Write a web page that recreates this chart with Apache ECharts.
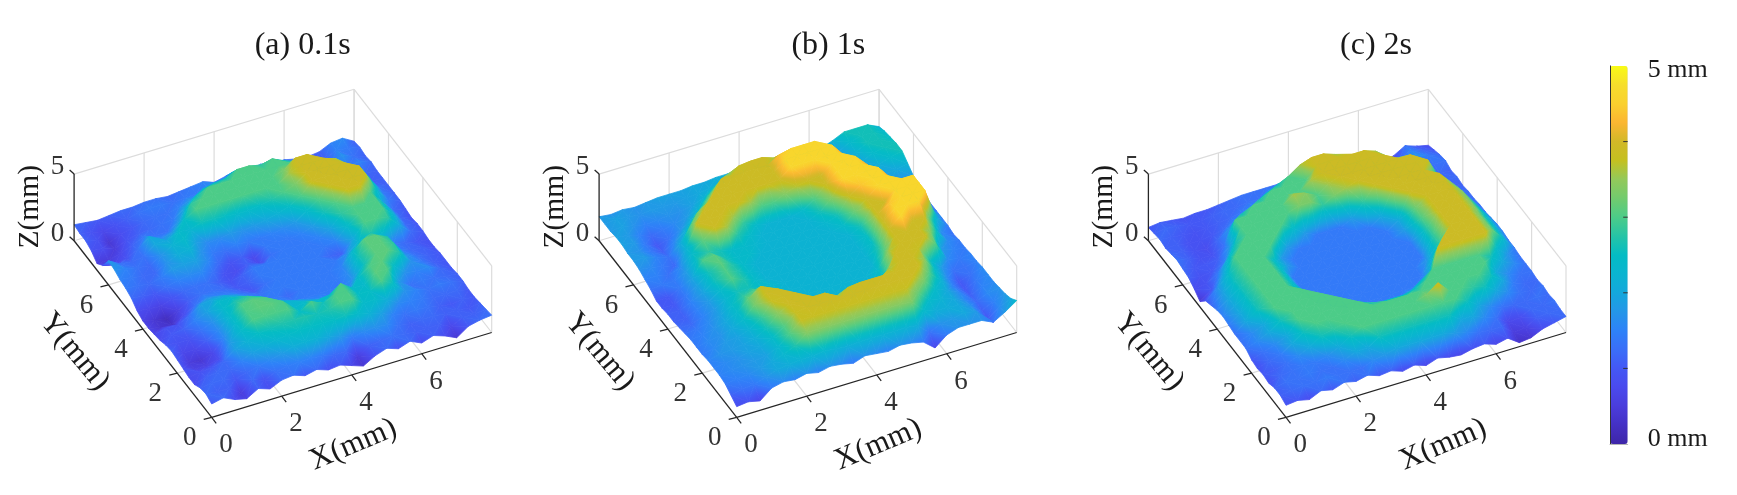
<!DOCTYPE html>
<html><head><meta charset="utf-8">
<style>html,body{margin:0;padding:0;background:#fff}#c{width:1737px;height:495px}</style>
<script src="https://cdn.jsdelivr.net/npm/echarts@6/dist/echarts.min.js"></script>
</head><body><div id="c"></div>
<script>
// Surface heights, in tenths of a millimetre.
// Each row is one y step (1/3 mm, y = 0 first); each column one x step (1/3 mm).
const heightsA = [
[10,12,8,6,11,8,12,13,10,12,9,10,7,4,9,12,9,12,8,11,8,4,10,12,13],
[12,11,11,5,12,9,13,14,15,15,14,12,12,5,11,12,13,12,11,11,11,7,11,11,12],
[11,12,12,10,12,14,16,18,21,22,22,20,18,14,16,17,16,13,11,12,12,11,11,10,11],
[8,11,12,12,15,19,21,23,24,25,25,25,25,26,24,22,19,15,13,14,13,11,10,11,10],
[8,9,10,12,19,22,25,26,27,27,27,26,27,30,30,24,24,21,16,15,14,12,12,12,10],
[9,6,6,8,18,24,30,30,30,30,25,30,26,30,30,25,25,30,25,17,15,13,14,13,11],
[10,5,4,7,16,24,30,31,31,30,23,24,23,24,30,24,24,31,30,18,13,14,13,12,11],
[11,7,7,11,16,24,30,31,30,23,22,20,17,16,15,15,24,30,31,25,17,15,16,12,10],
[10,9,9,13,17,24,27,28,25,20,16,14,14,14,14,14,17,26,31,31,27,17,14,11,10],
[8,10,11,15,19,24,24,22,18,14,14,12,14,14,14,14,16,26,31,31,28,17,13,11,10],
[7,9,9,13,19,20,20,18,15,13,14,14,14,14,14,14,15,24,31,31,27,15,12,11,9],
[6,4,3,8,13,16,15,14,12,10,13,14,14,14,14,14,14,17,23,27,23,14,12,10,9],
[6,4,2,6,11,13,13,12,10,11,14,14,14,14,14,14,12,11,20,30,30,28,20,12,10],
[8,7,6,9,12,13,13,11,9,11,14,14,14,14,14,14,14,15,24,30,30,30,22,12,10],
[12,11,10,13,15,16,16,13,9,8,11,8,13,14,14,14,15,19,28,30,30,30,22,12,9],
[14,13,12,14,18,19,19,16,12,9,11,7,14,14,14,15,18,26,30,39,39,30,20,12,10],
[15,14,12,12,17,21,22,17,14,13,15,14,14,15,16,18,24,30,39,39,39,39,24,14,11],
[17,15,13,12,17,22,24,19,16,16,18,17,18,20,22,25,30,39,39,39,39,39,26,14,11],
[18,13,12,13,20,20,24,23,26,26,25,24,24,25,27,30,33,39,39,39,39,33,20,13,11],
[9,7,9,13,20,16,18,25,30,30,30,30,30,30,30,30,36,39,39,39,36,24,14,11,11],
[5,5,7,11,14,13,13,18,28,30,30,30,30,30,30,30,33,39,39,33,26,15,12,12,11],
[9,8,5,9,11,12,13,14,20,26,30,30,30,30,30,30,30,30,28,20,14,12,14,15,12],
[11,9,4,8,10,12,13,13,15,18,23,25,26,30,30,28,30,26,20,14,12,12,17,13,11],
[11,9,7,9,11,13,14,14,13,14,14,16,17,22,22,20,17,15,14,12,11,11,15,14,12],
[12,11,10,11,12,12,13,13,12,13,14,15,12,14,13,14,15,13,13,11,10,11,15,16,11]
];
const heightsB = [
[8,9,7,14,16,15,17,15,17,16,14,17,16,15,17,16,14,7,14,17,17,17,13,18,24],
[11,13,14,17,20,21,22,22,23,22,21,22,22,22,22,22,21,13,17,18,20,18,10,16,20],
[14,15,16,18,20,23,27,34,34,34,34,34,34,34,34,34,33,24,21,21,20,17,11,15,18],
[15,16,17,18,19,23,30,38,38,38,38,38,38,38,38,38,38,32,24,22,20,16,12,16,17],
[15,16,17,19,20,24,30,38,39,39,39,39,39,39,39,39,39,39,33,24,20,16,11,15,16],
[15,17,18,19,21,26,34,39,39,39,39,34,38,39,39,39,39,39,39,30,22,15,10,14,16],
[14,16,18,19,22,28,38,39,39,26,24,22,24,22,24,28,36,39,39,35,24,16,10,13,16],
[14,16,17,20,24,33,39,39,30,22,22,22,22,22,22,22,26,39,39,38,26,18,13,13,15],
[14,15,17,20,24,32,38,33,26,22,22,22,22,22,22,22,24,36,39,39,39,30,16,14,15],
[13,14,16,19,24,28,30,26,23,22,22,22,22,22,22,22,22,30,39,39,39,34,18,15,14],
[12,12,15,18,23,26,26,24,23,22,22,22,22,22,22,22,22,27,39,46,39,39,26,16,14],
[11,11,15,18,24,30,27,24,22,22,22,22,22,22,22,22,22,25,39,46,46,46,30,16,13],
[11,11,15,19,26,30,27,24,22,22,22,22,22,22,22,22,22,25,39,44,46,46,46,22,14],
[10,10,14,19,26,31,27,24,22,22,22,22,22,22,22,22,22,26,39,39,46,46,46,24,14],
[10,10,14,19,30,31,26,24,24,22,22,22,22,22,22,22,24,32,39,46,46,46,46,22,14],
[13,14,14,18,26,28,26,24,24,23,22,22,22,22,22,23,26,38,44,46,46,38,22,16,14],
[15,15,13,16,24,31,39,36,27,24,22,22,22,22,22,26,34,46,46,46,46,30,20,16,15],
[17,16,14,12,22,39,39,39,36,28,24,22,22,22,24,30,39,46,46,46,40,26,18,16,16],
[18,18,15,13,20,32,39,39,39,39,36,30,30,34,37,39,39,46,46,46,34,22,18,17,18],
[18,17,14,11,16,22,33,39,39,39,39,39,39,39,46,46,46,46,46,38,28,20,19,20,22],
[19,18,14,10,13,17,22,30,39,39,39,39,39,39,46,46,46,46,46,32,24,20,21,24,26],
[19,18,15,12,14,16,18,22,30,39,39,39,39,39,44,46,46,46,36,26,20,20,24,26,26],
[18,19,17,15,16,17,17,19,22,28,34,38,39,39,36,34,36,38,30,22,18,22,26,26,25],
[18,19,18,17,18,18,18,19,20,21,22,24,26,26,24,22,22,24,22,20,19,24,26,26,24],
[18,17,18,17,18,19,19,19,20,20,21,21,22,22,22,22,21,21,20,19,22,26,26,26,22]
];
const heightsC = [
[9,10,8,12,10,13,11,13,10,11,8,10,7,10,8,7,9,10,7,9,3,4,8,10,12],
[11,12,13,13,14,13,13,13,16,18,20,20,20,20,20,18,16,13,12,12,5,6,11,12,12],
[11,13,13,14,13,13,16,20,20,26,26,26,26,26,26,26,20,20,16,13,7,8,12,12,13],
[9,12,13,14,14,16,20,26,30,30,30,30,30,30,30,30,30,26,20,16,13,12,12,13,12],
[10,11,13,16,20,26,28,30,30,30,30,30,30,30,33,39,30,30,28,26,20,16,13,12,13],
[9,12,14,20,26,30,30,30,30,30,30,30,30,30,30,30,30,30,30,30,26,20,14,12,12],
[10,13,16,20,30,30,30,30,30,30,26,24,24,24,26,30,30,30,30,30,30,20,16,13,13],
[13,16,20,26,30,30,30,30,30,24,18,14,14,14,18,24,30,30,30,30,30,26,20,16,13],
[13,16,20,30,30,30,30,30,18,14,14,14,14,14,14,14,18,39,39,39,39,39,24,17,13],
[13,20,26,30,30,30,30,18,14,14,14,14,14,14,14,14,14,24,39,39,39,39,33,24,14],
[14,20,26,30,30,30,24,18,14,14,14,14,14,14,14,14,14,18,28,39,39,39,33,24,14],
[15,20,26,30,30,30,24,14,14,14,14,14,14,14,14,14,14,14,28,39,39,39,33,24,15],
[14,20,26,30,30,30,24,14,14,14,14,14,14,14,14,14,14,14,28,39,39,39,34,24,15],
[12,19,26,30,30,30,24,14,14,14,14,14,14,14,14,14,14,14,30,39,39,39,34,24,14],
[10,17,25,30,30,30,24,18,14,14,14,14,14,14,14,14,14,18,32,39,39,39,34,22,13],
[4,10,20,30,30,30,30,18,14,14,14,14,14,14,14,14,14,20,39,39,39,39,32,20,13],
[8,9,14,24,30,30,30,30,18,14,14,14,14,14,14,14,20,39,39,39,39,39,28,17,12],
[11,9,10,14,26,30,30,30,30,24,18,14,14,14,18,28,39,39,39,39,39,30,20,15,12],
[12,10,10,11,18,30,30,30,30,30,33,33,28,33,36,39,39,39,39,39,39,38,22,13,11],
[13,11,9,9,13,30,30,30,30,30,36,34,30,36,39,39,39,39,39,39,39,26,13,12,12],
[12,11,9,8,12,18,26,30,30,30,30,30,36,39,39,39,39,39,39,33,18,12,11,12,11],
[11,11,9,9,10,12,16,20,26,30,30,30,30,39,39,39,39,39,36,20,11,12,12,13,13],
[12,11,10,9,10,11,12,14,16,22,26,30,36,39,39,36,30,18,12,9,13,16,17,14,12],
[11,12,11,10,10,11,12,12,13,13,16,20,22,22,20,16,12,11,9,8,7,11,15,12,10],
[10,11,10,9,10,10,11,12,13,13,13,13,13,13,12,12,13,13,12,8,6,8,13,10,8]
];
const titles = ['(a) 0.1s', '(b) 1s', '(c) 2s'];
const xTicks = [0, 2, 4, 6];
const yTicks = [0, 2, 4, 6];
const zTicks = [0, 5];
const gridLines = [2, 4, 6, 8];
const colorbarTicks = [1, 2, 3, 4];
const colorbarStops = ['#3e26a8','#4430c4','#4a3ddc','#4a4aed','#4458f5','#3a6ef8','#2e82f8','#2496e8','#14a8dc','#0ab4d0','#04bcc4','#26c4a6','#4ccc88','#72cb6e','#93c95a','#c4c020','#d2b828','#fbb632','#fad02e','#f6de2c','#f9fb15'];

// view settings
const SERIF = '"Liberation Serif","Times New Roman",serif';
const AXIS_MM = 8, Z_MAX = 5;
const panels = [
  { heights: heightsA, ox: 211.7, titleX: 297.7, xLabelDx: 141.5 },
  { heights: heightsB, ox: 736.7, titleX: 823.3, xLabelDx: 141.5 },
  { heights: heightsC, ox: 1286,  titleX: 1371,  xLabelDx: 157 }
];
const OY = 417.3, LEFT_PAD = 170, GRID_W = 470, GRID_TOP = 60;
const proj = (x, y, z) => [35 * x - 17.2 * y, 10.6 * x + 22.07 * y + 13.33 * z];
const colorOf = t => echarts.color.lerp(Math.max(0, Math.min(1, t)), colorbarStops);

function triangle(pts, vals) {
  const [p1, p2, p3] = pts, [v1, v2, v3] = vals;
  const vmin = Math.min(v1, v2, v3), vmax = Math.max(v1, v2, v3);
  const e1x = p2[0]-p1[0], e1y = p2[1]-p1[1], e2x = p3[0]-p1[0], e2y = p3[1]-p1[1];
  const det = e1x*e2y - e1y*e2x;
  let paint;
  if (vmax - vmin < 0.01 || Math.abs(det) < 0.05) {
    paint = colorOf((v1+v2+v3)/3/Z_MAX);
  } else {
    const d1 = v2-v1, d2 = v3-v1;
    const a = (d1*e2y - d2*e1y)/det, b = (d2*e1x - d1*e2x)/det;
    const g2 = a*a + b*b, s = pts[vals.indexOf(vmin)], k = (vmax-vmin)/g2;
    const n = Math.ceil((vmax-vmin)/0.2) + 1, stops = [];
    for (let q = 0; q <= n; q++) stops.push({ offset: q/n, color: colorOf((vmin + (vmax-vmin)*q/n)/Z_MAX) });
    paint = new echarts.graphic.LinearGradient(s[0], s[1], s[0]+a*k, s[1]+b*k, stops, true);
  }
  return { type: 'polygon', silent: true, shape: { points: pts },
    style: { fill: paint, stroke: paint, lineWidth: 0.8, lineJoin: 'round' } };
}

function surfaceRenderer(Z) {
  const step = AXIS_MM / (Z.length - 1);
  return (params, api) => {
    const i = api.value(0), j = api.value(1);
    const pt = (a, b) => api.coord(proj(a*step, b*step, Z[b][a]/10));
    const val = (a, b) => Z[b][a]/10;
    const p00 = pt(i,j), p10 = pt(i+1,j), p01 = pt(i,j+1), p11 = pt(i+1,j+1);
    const v00 = val(i,j), v10 = val(i+1,j), v01 = val(i,j+1), v11 = val(i+1,j+1);
    // far triangle first, splitting along the flatter diagonal
    const children = Math.abs(v00-v11) <= Math.abs(v10-v01)
      ? [triangle([p00,p01,p11],[v00,v01,v11]), triangle([p00,p10,p11],[v00,v10,v11])]
      : [triangle([p10,p01,p11],[v10,v01,v11]), triangle([p00,p10,p01],[v00,v10,v01])];
    return { type: 'group', children };
  };
}

function lineRenderer(segs) {
  return (params, api) => {
    const s = segs[params.dataIndex];
    const a = api.coord(proj(s[0],s[1],s[2])), b = api.coord(proj(s[3],s[4],s[5]));
    const dx = s[6] || 0, dy = s[7] || 0;
    return { type: 'line', silent: true,
      shape: { x1:a[0], y1:a[1], x2:b[0]+dx, y2:b[1]+dy },
      style: { stroke: s[8], lineWidth: s[9] } };
  };
}

function labelRenderer(labels) {
  return (params, api) => {
    const l = labels[params.dataIndex];
    const p = api.coord(proj(l.x, l.y, l.z));
    return { type:'text', silent:true, x:p[0]+l.dx, y:p[1]+l.dy, rotation:l.rot||0,
      style:{ text:l.text, fill:l.fill||'#333', font:l.size+'px '+SERIF, align:'center', verticalAlign:'middle' } };
  };
}

const gridCol = '#dcdcdc', axisCol = '#262626';
function frameSegments() {
  const s = [];
  const add = (a,b,c,d,e,f) => s.push([a,b,c,d,e,f,0,0,gridCol,1.2]);
  gridLines.forEach(t => {
    add(t,0,0,t,AXIS_MM,0);
    add(0,t,0,AXIS_MM,t,0);
    add(t,AXIS_MM,0,t,AXIS_MM,Z_MAX);
    add(AXIS_MM,t,0,AXIS_MM,t,Z_MAX);
  });
  add(AXIS_MM,0,0,AXIS_MM,0,Z_MAX);
  add(0,AXIS_MM,Z_MAX,AXIS_MM,AXIS_MM,Z_MAX);
  add(AXIS_MM,0,Z_MAX,AXIS_MM,AXIS_MM,Z_MAX);
  return s;
}
function axisSegments() {
  const s = [];
  const add = (a,b,c,d,e,f,dx,dy) => s.push([a,b,c,d,e,f,dx||0,dy||0,axisCol,1.3]);
  add(0,0,0,AXIS_MM,0,0);
  add(0,0,0,0,AXIS_MM,0);
  add(0,AXIS_MM,0,0,AXIS_MM,Z_MAX);
  xTicks.forEach(t => add(t,0,0,t,0,0,4.5,6));
  yTicks.forEach(t => add(0,t,0,0,t,0,-8,2));
  zTicks.forEach(t => add(0,AXIS_MM,t,0,AXIS_MM,t,-4.5,-4));
  return s;
}
function axisLabels(p) {
  const out = [];
  xTicks.forEach(t => out.push({ text:String(t), x:t, y:0, z:0, dx:14.3, dy:27.8, size:27 }));
  yTicks.forEach(t => out.push({ text:String(t), x:0, y:t, z:0, dx:-22, dy:21, size:27 }));
  zTicks.forEach(t => out.push({ text:String(t), x:0, y:AXIS_MM, z:t, dx:-16.7, dy:-7, size:27 }));
  out.push({ text:'X(mm)', x:0, y:0, z:0, dx:p.xLabelDx, dy:27.5, size:31, rot:0.40, fill:'#1a1a1a' });
  out.push({ text:'Y(mm)', x:0, y:0, z:0, dx:-137, dy:-65.5, size:31, rot:-0.875, fill:'#1a1a1a' });
  out.push({ text:'Z(mm)', x:0, y:0, z:0, dx:-181.7, dy:-210.5, size:29.5, rot:Math.PI/2, fill:'#1a1a1a' });
  return out;
}

const title = [], grid = [], xAxis = [], yAxis = [], series = [];
panels.forEach((p, k) => {
  title.push({ text: titles[k], left: p.titleX, top: 25, textAlign: 'center',
    textStyle: { fontFamily: SERIF, fontSize: 32, fontWeight: 'normal', color: '#1a1a1a' } });
  grid.push({ left: p.ox - LEFT_PAD, width: GRID_W, top: GRID_TOP, height: OY - GRID_TOP });
  xAxis.push({ type:'value', gridIndex:k, min:-LEFT_PAD, max:GRID_W-LEFT_PAD, show:false });
  yAxis.push({ type:'value', gridIndex:k, min:0, max:OY-GRID_TOP, show:false });
  const base = { type:'custom', xAxisIndex:k, yAxisIndex:k, clip:false, animation:false, progressive:0, silent:true };
  const frame = frameSegments();
  series.push({ ...base, name:'frame'+k, renderItem: lineRenderer(frame), data: frame.map((_,q)=>[q,0]) });
  const cells = [], n = p.heights.length - 1;
  for (let j = n-1; j >= 0; j--) for (let i = n-1; i >= 0; i--) cells.push([i,j]);
  series.push({ ...base, name:'surface'+k, renderItem: surfaceRenderer(p.heights), data: cells });
  const axes = axisSegments();
  series.push({ ...base, name:'axes'+k, renderItem: lineRenderer(axes), data: axes.map((_,q)=>[q,0]) });
  const labels = axisLabels(p);
  series.push({ ...base, name:'labels'+k, renderItem: labelRenderer(labels), data: labels.map((_,q)=>[q,0]) });
});

// colour bar with its own real scale
const CB = { left:1610, top:66, width:17.7, height:378 };
grid.push({ left:CB.left, top:CB.top, width:CB.width, height:CB.height });
xAxis.push({ type:'value', gridIndex:3, min:0, max:1, position:'top', z:10,
  axisLine:{ show:true, lineStyle:{ color:'#b5b5b5', width:1 } }, axisTick:{show:false}, axisLabel:{show:false}, splitLine:{show:false} });
const cbAxis = { type:'value', gridIndex:3, min:0, max:Z_MAX, interval:1, z:10, splitLine:{show:false}, axisTick:{show:false} };
yAxis.push({ ...cbAxis, position:'right',
  axisLine:{ show:true, lineStyle:{ color:'#b5b5b5', width:1 } },
  axisLabel:{ show:true, margin:20, fontFamily:SERIF, fontSize:26, color:'#1a1a1a',
    formatter:v => v===Z_MAX ? '{t|'+v+' mm}' : v===0 ? '{b|'+v+' mm}' : '',
    rich:{ t:{ fontFamily:SERIF, fontSize:26, color:'#1a1a1a', padding:[8,0,0,0] },
           b:{ fontFamily:SERIF, fontSize:26, color:'#1a1a1a', padding:[0,0,10,0] } } } });
yAxis.push({ ...cbAxis, position:'left',
  axisLine:{ show:true, lineStyle:{ color:'#333', width:1 } }, axisLabel:{show:false} });
series.push({ type:'custom', name:'colorbarTicks', xAxisIndex:3, yAxisIndex:3, clip:false, silent:true, animation:false,
  data: colorbarTicks.map(v => [1, v]),
  renderItem:(params, api) => {
    const a = api.coord([1, api.value(1)]);
    return { type:'line', silent:true, shape:{ x1:a[0]-4.5, y1:a[1], x2:a[0], y2:a[1] }, style:{ stroke:'#333', lineWidth:1 } };
  } });

const chart = echarts.init(document.getElementById('c'), null, { renderer:'canvas' });
chart.setOption({
  animation:false, backgroundColor:'#fff', tooltip:{show:false},
  title, grid, xAxis, yAxis, series,
  visualMap:{ type:'continuous', min:0, max:Z_MAX, left:CB.left, top:CB.top, padding:0,
    itemWidth:CB.width, itemHeight:CB.height, calculable:false, hoverLink:false,
    seriesIndex:series.length-1, inRange:{ color:colorbarStops }, text:null, showLabel:false, z:1 }
});
</script></body></html>
